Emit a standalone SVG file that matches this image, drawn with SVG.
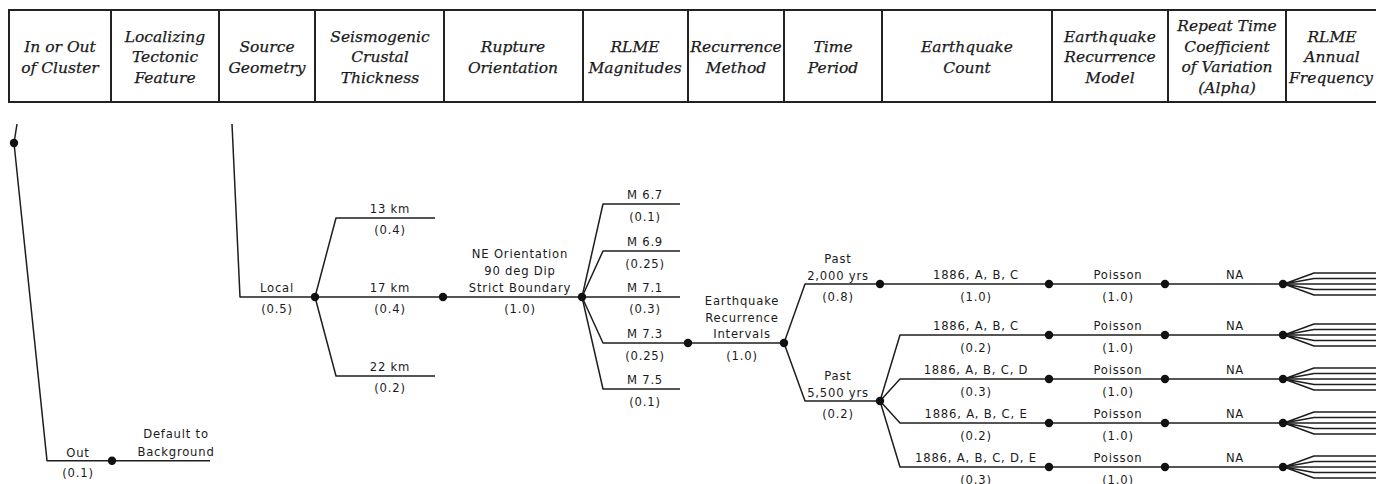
<svg xmlns="http://www.w3.org/2000/svg" width="1376" height="484" viewBox="0 0 1376 484">
<style>
.hb{fill:none;stroke:#222;stroke-width:2}
.hd{stroke:#222;stroke-width:2}
.ht{font-family:"DejaVu Serif",serif;font-style:italic;font-size:15.5px;fill:#1a1a1a;stroke:#1a1a1a;stroke-width:0.25;text-anchor:middle}
.ln{fill:none;stroke:#1e1e1e;stroke-width:1.5;stroke-linejoin:round}
.nd{fill:#111}
.t{font-family:"DejaVu Sans",sans-serif;font-size:11.6px;letter-spacing:0.8px;fill:#1a1a1a;text-anchor:middle}
</style>
<rect width="1376" height="484" fill="#fff"/>
<g id="header">
<rect class="hb" x="9" y="10" width="1380" height="92"/>
<g id="h1"><text class="ht" x="60" y="52">In or Out</text><text class="ht" x="60" y="73">of Cluster</text></g>
<line class="hd" x1="111" y1="10" x2="111" y2="102"/>
<g id="h2"><text class="ht" x="165" y="41.5">Localizing</text><text class="ht" x="165" y="62">Tectonic</text><text class="ht" x="165" y="82.5">Feature</text></g>
<line class="hd" x1="219" y1="10" x2="219" y2="102"/>
<g id="h3"><text class="ht" x="267" y="52">Source</text><text class="ht" x="267" y="73">Geometry</text></g>
<line class="hd" x1="315" y1="10" x2="315" y2="102"/>
<g id="h4"><text class="ht" x="380" y="41.5">Seismogenic</text><text class="ht" x="380" y="62">Crustal</text><text class="ht" x="380" y="82.5">Thickness</text></g>
<line class="hd" x1="444" y1="10" x2="444" y2="102"/>
<g id="h5"><text class="ht" x="513" y="52">Rupture</text><text class="ht" x="513" y="73">Orientation</text></g>
<line class="hd" x1="583" y1="10" x2="583" y2="102"/>
<g id="h6"><text class="ht" x="635" y="52">RLME</text><text class="ht" x="635" y="73">Magnitudes</text></g>
<line class="hd" x1="688" y1="10" x2="688" y2="102"/>
<g id="h7"><text class="ht" x="736" y="52">Recurrence</text><text class="ht" x="736" y="73">Method</text></g>
<line class="hd" x1="784" y1="10" x2="784" y2="102"/>
<g id="h8"><text class="ht" x="833" y="52">Time</text><text class="ht" x="833" y="73">Period</text></g>
<line class="hd" x1="882" y1="10" x2="882" y2="102"/>
<g id="h9"><text class="ht" x="967" y="52">Earthquake</text><text class="ht" x="967" y="73">Count</text></g>
<line class="hd" x1="1052" y1="10" x2="1052" y2="102"/>
<g id="h10"><text class="ht" x="1110" y="41.5">Earthquake</text><text class="ht" x="1110" y="62">Recurrence</text><text class="ht" x="1110" y="82.5">Model</text></g>
<line class="hd" x1="1168" y1="10" x2="1168" y2="102"/>
<g id="h11"><text class="ht" x="1227" y="31">Repeat Time</text><text class="ht" x="1227" y="51.5">Coefficient</text><text class="ht" x="1227" y="72">of Variation</text><text class="ht" x="1227" y="92.5">(Alpha)</text></g>
<line class="hd" x1="1286" y1="10" x2="1286" y2="102"/>
<g id="h12"><text class="ht" x="1332" y="41.5">RLME</text><text class="ht" x="1332" y="62">Annual</text><text class="ht" x="1331" y="82.5">Frequency</text></g>
</g>
<g id="connectors">
<path class="ln" d="M14,143 L17,124"/>
<path class="ln" d="M14,143 L47,460.7 H210"/>
<path class="ln" d="M232,124 L240,297 H680"/>
<path class="ln" d="M315,297 L336,218 H435"/>
<path class="ln" d="M315,297 L336,376 H435"/>
<path class="ln" d="M582,297 L603,204 H680"/>
<path class="ln" d="M582,297 L603,251 H680"/>
<path class="ln" d="M582,297 L603,343 H784"/>
<path class="ln" d="M582,297 L603,389 H680"/>
<path class="ln" d="M784,343 L805,284 H1380"/>
<path class="ln" d="M784,343 L805,401 H880"/>
<path class="ln" d="M880,401 L900,335 H1380"/>
<path class="ln" d="M880,401 L900,379 H1380"/>
<path class="ln" d="M880,401 L900,423 H1380"/>
<path class="ln" d="M880,401 L900,467 H1380"/>
<g id="fans">
<path class="ln" d="M1284,284 L1314,273 H1380 M1284,284 L1314,278.5 H1380 M1284,284 L1314,289.5 H1380 M1284,284 L1314,295 H1380"/>
<path class="ln" d="M1284,335 L1314,324 H1380 M1284,335 L1314,329.5 H1380 M1284,335 L1314,340.5 H1380 M1284,335 L1314,346 H1380"/>
<path class="ln" d="M1284,379 L1314,368 H1380 M1284,379 L1314,373.5 H1380 M1284,379 L1314,384.5 H1380 M1284,379 L1314,390 H1380"/>
<path class="ln" d="M1284,423 L1314,412 H1380 M1284,423 L1314,417.5 H1380 M1284,423 L1314,428.5 H1380 M1284,423 L1314,434 H1380"/>
<path class="ln" d="M1284,467 L1314,456 H1380 M1284,467 L1314,461.5 H1380 M1284,467 L1314,472.5 H1380 M1284,467 L1314,478 H1380"/>
</g>
</g>
<g id="n-cluster"><circle class="nd" cx="14" cy="143" r="4.2"/></g>
<g id="n-out"><text class="t" x="78" y="456.5">Out</text><text class="t" x="78" y="477">(0.1)</text><circle class="nd" cx="112" cy="460.7" r="4.2"/><text class="t" x="176" y="438">Default to</text><text class="t" x="176" y="455.5">Background</text></g>
<g id="n-local"><text class="t" x="277" y="292">Local</text><text class="t" x="277" y="313">(0.5)</text><circle class="nd" cx="315" cy="297" r="4.2"/></g>
<g id="n-13km"><text class="t" x="390" y="213">13 km</text><text class="t" x="390" y="234">(0.4)</text></g>
<g id="n-17km"><text class="t" x="390" y="292">17 km</text><text class="t" x="390" y="313">(0.4)</text><circle class="nd" cx="443" cy="297" r="4.2"/></g>
<g id="n-22km"><text class="t" x="390" y="371">22 km</text><text class="t" x="390" y="392">(0.2)</text></g>
<g id="n-rupture"><text class="t" x="520" y="258">NE Orientation</text><text class="t" x="520" y="275">90 deg Dip</text><text class="t" x="520" y="292">Strict Boundary</text><text class="t" x="520" y="313">(1.0)</text><circle class="nd" cx="582" cy="297" r="4.2"/></g>
<g id="n-m67"><text class="t" x="645" y="199">M 6.7</text><text class="t" x="645" y="220.5">(0.1)</text></g>
<g id="n-m69"><text class="t" x="645" y="246">M 6.9</text><text class="t" x="645" y="267.5">(0.25)</text></g>
<g id="n-m71"><text class="t" x="645" y="292">M 7.1</text><text class="t" x="645" y="313">(0.3)</text></g>
<g id="n-m73"><text class="t" x="645" y="338">M 7.3</text><text class="t" x="645" y="359.5">(0.25)</text><circle class="nd" cx="688" cy="343" r="4.2"/></g>
<g id="n-m75"><text class="t" x="645" y="384">M 7.5</text><text class="t" x="645" y="405.5">(0.1)</text></g>
<g id="n-method"><text class="t" x="742" y="305">Earthquake</text><text class="t" x="742" y="321.5">Recurrence</text><text class="t" x="742" y="338">Intervals</text><text class="t" x="742" y="359.5">(1.0)</text><circle class="nd" cx="784" cy="343" r="4.2"/></g>
<g id="n-p2000"><text class="t" x="838" y="263">Past</text><text class="t" x="838" y="279.5">2,000 yrs</text><text class="t" x="838" y="300.5">(0.8)</text><circle class="nd" cx="880" cy="284" r="4.2"/></g>
<g id="n-p5500"><text class="t" x="838" y="380">Past</text><text class="t" x="838" y="396.5">5,500 yrs</text><text class="t" x="838" y="417.5">(0.2)</text><circle class="nd" cx="880" cy="401" r="4.2"/></g>
<g id="row1"><text class="t" x="976" y="279">1886, A, B, C</text><text class="t" x="976" y="300.5">(1.0)</text><circle class="nd" cx="1049" cy="284" r="4.2"/><text class="t" x="1118" y="279">Poisson</text><text class="t" x="1118" y="300.5">(1.0)</text><circle class="nd" cx="1165" cy="284" r="4.2"/><text class="t" x="1235" y="279">NA</text><circle class="nd" cx="1283" cy="284" r="4.2"/></g>
<g id="row2"><text class="t" x="976" y="330">1886, A, B, C</text><text class="t" x="976" y="351.5">(0.2)</text><circle class="nd" cx="1049" cy="335" r="4.2"/><text class="t" x="1118" y="330">Poisson</text><text class="t" x="1118" y="351.5">(1.0)</text><circle class="nd" cx="1165" cy="335" r="4.2"/><text class="t" x="1235" y="330">NA</text><circle class="nd" cx="1283" cy="335" r="4.2"/></g>
<g id="row3"><text class="t" x="976" y="374">1886, A, B, C, D</text><text class="t" x="976" y="395.5">(0.3)</text><circle class="nd" cx="1049" cy="379" r="4.2"/><text class="t" x="1118" y="374">Poisson</text><text class="t" x="1118" y="395.5">(1.0)</text><circle class="nd" cx="1165" cy="379" r="4.2"/><text class="t" x="1235" y="374">NA</text><circle class="nd" cx="1283" cy="379" r="4.2"/></g>
<g id="row4"><text class="t" x="976" y="418">1886, A, B, C, E</text><text class="t" x="976" y="439.5">(0.2)</text><circle class="nd" cx="1049" cy="423" r="4.2"/><text class="t" x="1118" y="418">Poisson</text><text class="t" x="1118" y="439.5">(1.0)</text><circle class="nd" cx="1165" cy="423" r="4.2"/><text class="t" x="1235" y="418">NA</text><circle class="nd" cx="1283" cy="423" r="4.2"/></g>
<g id="row5"><text class="t" x="976" y="462">1886, A, B, C, D, E</text><text class="t" x="976" y="483.5">(0.3)</text><circle class="nd" cx="1049" cy="467" r="4.2"/><text class="t" x="1118" y="462">Poisson</text><text class="t" x="1118" y="483.5">(1.0)</text><circle class="nd" cx="1165" cy="467" r="4.2"/><text class="t" x="1235" y="462">NA</text><circle class="nd" cx="1283" cy="467" r="4.2"/></g>
</svg>
